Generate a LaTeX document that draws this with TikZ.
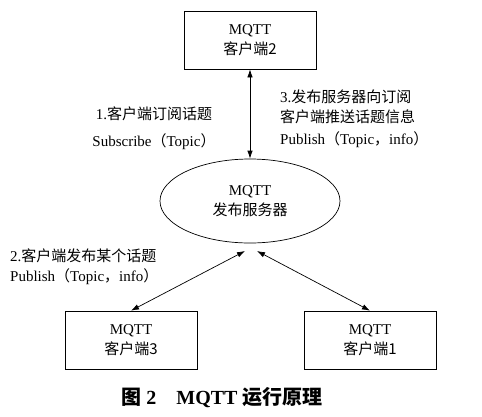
\documentclass[tikz,border=0pt]{standalone}
\usepackage{fontspec}
\setmainfont{Liberation Serif}
\newfontfamily\cjk{Noto Sans CJK SC}
\usetikzlibrary{arrows.meta,shapes.geometric}
\newcommand\zh[1]{{\cjk #1}}

\tikzset{
  client/.style={draw,rectangle,line width=0.7pt,minimum width=132,minimum height=58,
    align=center,font=\fontsize{15}{20}\selectfont},
  broker/.style={draw,ellipse,line width=0.7pt,minimum width=180,minimum height=84,
    align=center,font=\fontsize{15}{20}\selectfont},
  msg/.style={{Latex[length=8pt,width=5.5pt]}-{Latex[length=8pt,width=5.5pt]},line width=0.7pt},
  note/.style={inner sep=0pt,font=\fontsize{15}{20}\selectfont}
}

\begin{document}
\begin{tikzpicture}[x=1pt,y=-1pt]
        \useasboundingbox (0,0) rectangle (482,416);
        % clients and broker
        \node[client] (client2) at (250,40) {MQTT\\\zh{客户端2}};
        \node[broker] (server) at (250,201) {MQTT\\\zh{发布服务器}};
        \node[client] (client3) at (131,340) {MQTT\\\zh{客户端3}};
        \node[client] (client1) at (370,340) {MQTT\\\zh{客户端1}};
        \coordinate (in3) at (245,251);
        \coordinate (in1) at (257,251);
        % messages
        \draw[msg] (client2) -- (server);
        \draw[msg] (in3) -- (client3.north);
        \draw[msg] (in1) -- (client1.north);
        % labels
        \node[note,align=center] (sub) at (154,128) {1.\zh{客户端订阅话题}\\[7pt]Subscribe\zh{（}Topic\zh{）}};
        \node[note,align=left,anchor=north west] (push) at (280,90) {3.\zh{发布服务器向订阅}\\\zh{客户端推送话题信息}\\[2pt]Publish\zh{（}Topic\zh{，}info\zh{）}};
        \node[note,align=left,anchor=north west] (pub) at (10,249) {2.\zh{客户端发布某个话题}\\Publish\zh{（}Topic\zh{，}info\zh{）}};
        % caption
        \node[inner sep=0pt,font=\fontsize{20}{24}\selectfont\bfseries] (cap) at (222,398) {\zh{图}~2\quad MQTT \zh{运行原理}};
\end{tikzpicture}
\end{document}
